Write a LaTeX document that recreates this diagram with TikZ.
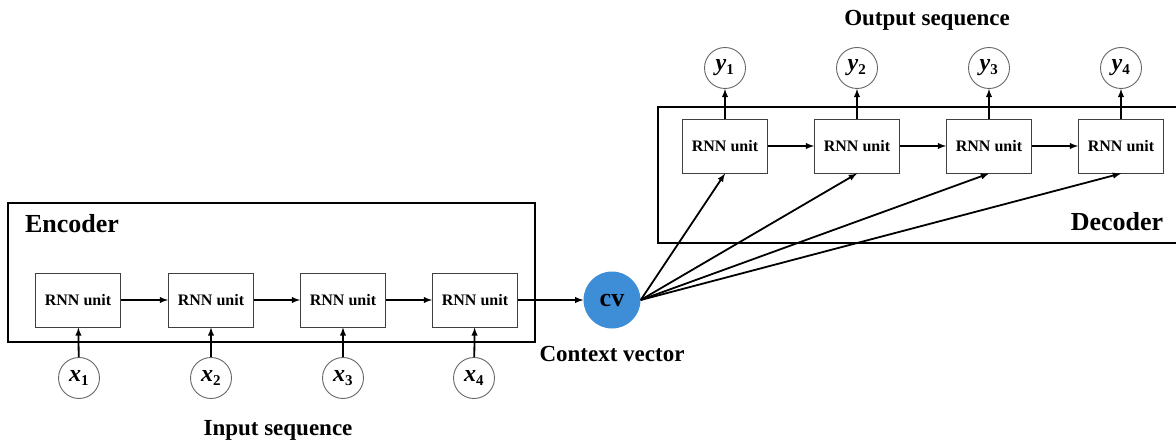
\documentclass[tikz,border=0pt]{standalone}
\usepackage{fontspec}
\setmainfont{Liberation Serif}
\usetikzlibrary{positioning,shapes,calc}
\definecolor{cvblue}{RGB}{61,142,214}

\tikzset{
  rnn/.style={draw=black!75,line width=1pt,minimum width=85pt,minimum height=54pt,inner sep=0pt,font=\fontsize{16}{16}\selectfont\bfseries},
  seq/.style={circle,draw=black!60,line width=.9pt,minimum size=41pt,inner sep=0pt,font=\fontsize{24}{24}\selectfont\bfseries\itshape},
  frame/.style={line width=1.8pt},
  flow/.style={line width=1.8pt,-latex},
  lbl/.style={font=\fontsize{23}{23}\selectfont\bfseries}
}
\newcommand{\sq}[2]{#1\textsubscript{\upshape\fontsize{15}{15}\selectfont #2}}

\begin{document}
\begin{tikzpicture}[x=1pt,y=-1pt]
    \useasboundingbox (0,0) rectangle (1176,444);
    \clip (0,0) rectangle (1176,444);

    % encoder
    \draw[frame] (8,203) rectangle (535,342);
    \node[lbl,font=\fontsize{26}{26}\selectfont\bfseries] (enc) at (72,224) {Encoder};
    \node[rnn] (e1) at (78,300) {RNN unit};
    \node[rnn] (e2) at (211,300) {RNN unit};
    \node[rnn] (e3) at (343,300) {RNN unit};
    \node[rnn] (e4) at (475,300) {RNN unit};
    \node[seq] (x1) at (79,378) {\sq{x}{1}};
    \node[seq] (x2) at (211,378) {\sq{x}{2}};
    \node[seq] (x3) at (343,378) {\sq{x}{3}};
    \node[seq] (x4) at (474,378) {\sq{x}{4}};
    \node[lbl] (inp) at (278,430) {Input sequence};

    \draw[flow] (e1) -- (e2);
    \draw[flow] (e2) -- (e3);
    \draw[flow] (e3) -- (e4);
    \draw[flow] (x1) -- (e1);
    \draw[flow] (x2) -- (e2);
    \draw[flow] (x3) -- (e3);
    \draw[flow] (x4) -- (e4);

    % context vector
    \node[circle,fill=cvblue,minimum size=57pt,inner sep=0pt,font=\fontsize{26}{26}\selectfont\bfseries] (cv) at (612,300) {cv};
    \node[lbl] (ctx) at (612,354) {Context vector};
    \draw[flow] (e4) -- (cv);

    % decoder
    \draw[frame] (1195,107) -- (658,107) -- (658,243) -- (1195,243);
    \node[lbl,font=\fontsize{26}{26}\selectfont\bfseries] (dec) at (1117,222) {Decoder};
    \node[rnn] (d1) at (725,146) {RNN unit};
    \node[rnn] (d2) at (857,146) {RNN unit};
    \node[rnn] (d3) at (989,146) {RNN unit};
    \node[rnn] (d4) at (1121,146) {RNN unit};
    \node[seq] (y1) at (725,68) {\sq{y}{1}};
    \node[seq] (y2) at (857,68) {\sq{y}{2}};
    \node[seq] (y3) at (989,68) {\sq{y}{3}};
    \node[seq] (y4) at (1121,68) {\sq{y}{4}};
    \node[lbl] (out) at (927,20) {Output sequence};

    \draw[flow] (d1) -- (d2);
    \draw[flow] (d2) -- (d3);
    \draw[flow] (d3) -- (d4);
    \draw[flow] (d1) -- (y1);
    \draw[flow] (d2) -- (y2);
    \draw[flow] (d3) -- (y3);
    \draw[flow] (d4) -- (y4);

    \draw[flow] (cv.east) -- (d1.south);
    \draw[flow] (cv.east) -- (d2.south);
    \draw[flow] (cv.east) -- (d3.south);
    \draw[flow] (cv.east) -- (d4.south);
\end{tikzpicture}
\end{document}
